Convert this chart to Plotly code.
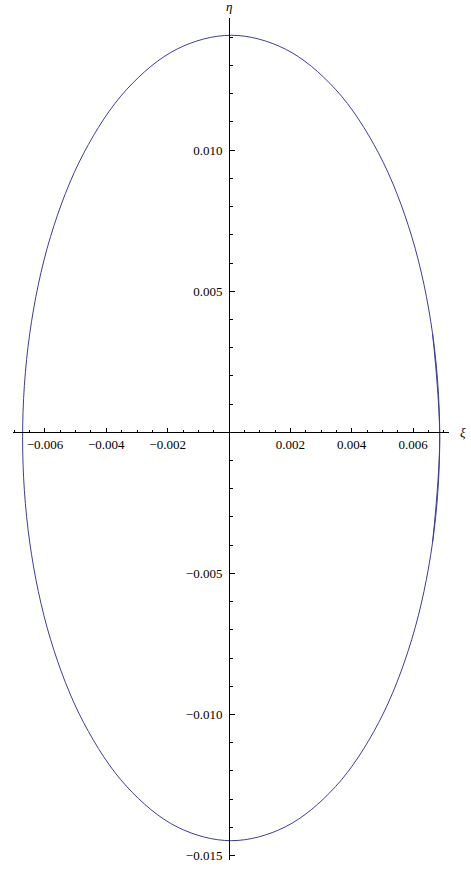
import plotly.graph_objects as go

# Curve points (xi, eta), going counter-clockwise from the right end
xi = [0.006638, 0.00687, 0.006638, 0.005959, 0.004878, 0.00347, 0.00183, 0.00007,
      -0.00169, -0.00333, -0.004738, -0.005819, -0.006498, -0.00673,
      -0.006498, -0.005819, -0.004738, -0.00333, -0.00169, 0.00007,
      0.00183, 0.00347, 0.004878, 0.005959, 0.006638, 0.00687, 0.006638]
eta = [-0.003893, -0.0002, 0.003493, 0.006935, 0.00989, 0.012158, 0.013584, 0.01407,
       0.013584, 0.012158, 0.00989, 0.006935, 0.003493, -0.0002,
       -0.003893, -0.007335, -0.01029, -0.012558, -0.013984, -0.01447,
       -0.013984, -0.012558, -0.01029, -0.007335, -0.003893, -0.0002, 0.003493]

x_tickvals = [-0.006, -0.004, -0.002, 0.002, 0.004, 0.006]
x_ticktext = ["\u22120.006", "\u22120.004", "\u22120.002", "0.002", "0.004", "0.006"]
y_tickvals = [0.010, 0.005, -0.005, -0.010, -0.015]
y_ticktext = ["0.010", "0.005", "\u22120.005", "\u22120.010", "\u22120.015"]

x_range = [-0.007043, 0.007173]
y_range = [-0.015155, 0.014682]

x_axis_pos = (0 - y_range[0]) / (y_range[1] - y_range[0])
y_axis_pos = (0 - x_range[0]) / (x_range[1] - x_range[0])

font = "Liberation Serif, Times New Roman, serif"

fig = go.Figure()
fig.add_trace(go.Scatter(x=xi, y=eta, mode="lines",
                         line=dict(color="#3d3d99", width=1, shape="spline", smoothing=1.0),
                         hoverinfo="skip", showlegend=False))

fig.update_layout(
    width=471, height=870,
    margin=dict(l=13, r=22, t=18, b=7),
    paper_bgcolor="white", plot_bgcolor="white",
    showlegend=False,
    font=dict(family=font, size=13, color="black"),
    xaxis=dict(range=x_range, domain=[0, 1], anchor="free", position=x_axis_pos, side="bottom",
               showgrid=False, zeroline=False, showline=True, linecolor="black", linewidth=1,
               tickmode="array", tickvals=x_tickvals, ticktext=x_ticktext,
               ticks="inside", ticklen=4, tickwidth=1, tickcolor="black",
               ticklabelstandoff=0,
               minor=dict(tickmode="linear", tick0=0, dtick=0.0005, ticks="inside", ticklen=2,
                          tickwidth=1, tickcolor="black", showgrid=False),
               tickfont=dict(family=font, size=13, color="black")),
    yaxis=dict(range=y_range, domain=[0, 1], anchor="free", position=y_axis_pos, side="left",
               showgrid=False, zeroline=False, showline=True, linecolor="black", linewidth=1,
               tickmode="array", tickvals=y_tickvals, ticktext=y_ticktext,
               ticks="inside", ticklen=5, tickwidth=1, tickcolor="black",
               ticklabelstandoff=4,
               minor=dict(tickmode="linear", tick0=0, dtick=0.001, ticks="inside", ticklen=3,
                          tickwidth=1, tickcolor="black", showgrid=False),
               tickfont=dict(family=font, size=13, color="black")),
    annotations=[
        dict(text="<i>\u03b7</i>", xref="x", x=0, yref="paper", y=1, xanchor="center", yanchor="bottom",
             yshift=2, showarrow=False, font=dict(family=font, size=13, color="black")),
        dict(text="<i>\u03be</i>", xref="paper", x=1, yref="y", y=0, xanchor="left", yanchor="middle",
             xshift=9, showarrow=False, font=dict(family=font, size=13, color="black")),
    ],
)

fig.write_html("out.html", config={"displayModeBar": False},
               post_script="document.body.style.margin='0';document.body.style.overflow='hidden';")
